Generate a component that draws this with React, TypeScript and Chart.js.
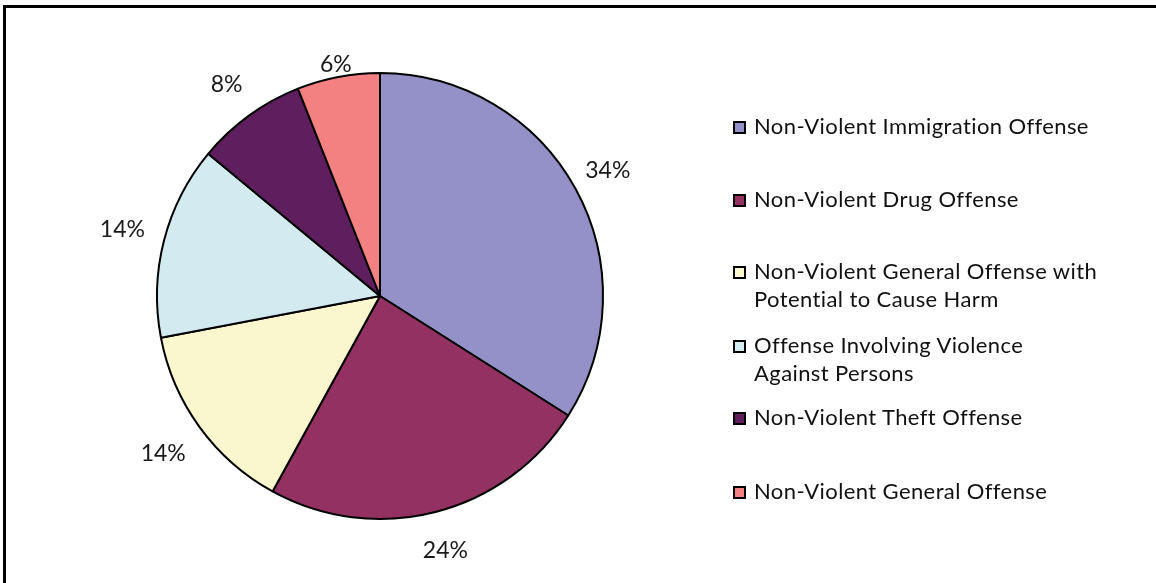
import React, { useEffect, useRef } from "react";
import { Chart, registerables } from "chart.js";

Chart.register(...registerables);

const categories = [
  "Non-Violent Immigration Offense",
  "Non-Violent Drug Offense",
  "Non-Violent General Offense with Potential to Cause Harm",
  "Offense Involving Violence Against Persons",
  "Non-Violent Theft Offense",
  "Non-Violent General Offense",
];
const legendLines = [
  ["Non-Violent Immigration Offense"],
  ["Non-Violent Drug Offense"],
  ["Non-Violent General Offense with", "Potential to Cause Harm"],
  ["Offense Involving Violence", "Against Persons"],
  ["Non-Violent Theft Offense"],
  ["Non-Violent General Offense"],
];
const values = [34, 24, 14, 14, 8, 6];
const colors = ["#9391C8", "#923162", "#FAF7CF", "#D2EAF0", "#5F1E5E", "#F38181"];
const labelGap = [37, 40, 45, 43, 38, 13];
const legendTop = [112, 185, 257, 331, 403, 477];

const FONT = "Lato, 'Noto Sans', sans-serif";

const labelPlugin = {
  id: "pctLabels",
  afterDatasetsDraw(chart: any) {
    const ctx = chart.ctx;
    const meta = chart.getDatasetMeta(0);
    ctx.save();
    ctx.font = `23px ${FONT}`;
    ctx.fillStyle = "#1a1a1a";
    ctx.textAlign = "center";
    ctx.textBaseline = "middle";
    meta.data.forEach((arc: any, i: number) => {
      const p = arc.getProps(["x", "y", "startAngle", "endAngle", "outerRadius"], true);
      const mid = (p.startAngle + p.endAngle) / 2;
      const r = p.outerRadius + labelGap[i];
      ctx.fillText(values[i] + "%", p.x + Math.cos(mid) * r, p.y + Math.sin(mid) * r);
    });
    ctx.restore();
  },
};

export default function App() {
  const ref = useRef<HTMLCanvasElement>(null);
  useEffect(() => {
    if (!ref.current) return;
    const chart = new Chart(ref.current, {
      type: "pie",
      data: {
        labels: categories,
        datasets: [
          {
            data: values,
            backgroundColor: colors,
            borderColor: "#000",
            borderWidth: 2,
          },
        ],
      },
      options: {
        responsive: false,
        animation: false,
        layout: { padding: { top: 72, bottom: 63, left: 156, right: 156 } },
        plugins: { legend: { display: false }, tooltip: { enabled: false } },
      },
      plugins: [labelPlugin],
    });
    return () => chart.destroy();
  }, []);

  return (
    <div style={{ position: "absolute", left: 0, top: 0, width: 1156, height: 583, background: "#fff", overflow: "hidden" }}>
      <div
        style={{
          position: "absolute",
          left: 3,
          top: 5,
          width: 1160,
          height: 600,
          borderTop: "3px solid #000",
          borderLeft: "3px solid #000",
        }}
      />
      <canvas ref={ref} width={760} height={583} style={{ position: "absolute", left: 0, top: 0 }} />
      {legendLines.map((lines, i) => (
        <div
          key={i}
          style={{
            position: "absolute",
            left: 733,
            top: legendTop[i],
            fontFamily: FONT,
            fontSize: 22,
            letterSpacing: 0.4,
            lineHeight: "28px",
            color: "#111",
          }}
        >
          <span
            style={{
              position: "absolute",
              left: 0,
              top: 9,
              width: 9,
              height: 9,
              background: colors[i],
              border: "2px solid #000",
            }}
          />
          <div style={{ marginLeft: 21, whiteSpace: "nowrap" }}>
            {lines.map((l, j) => (
              <div key={j}>{l}</div>
            ))}
          </div>
        </div>
      ))}
    </div>
  );
}
